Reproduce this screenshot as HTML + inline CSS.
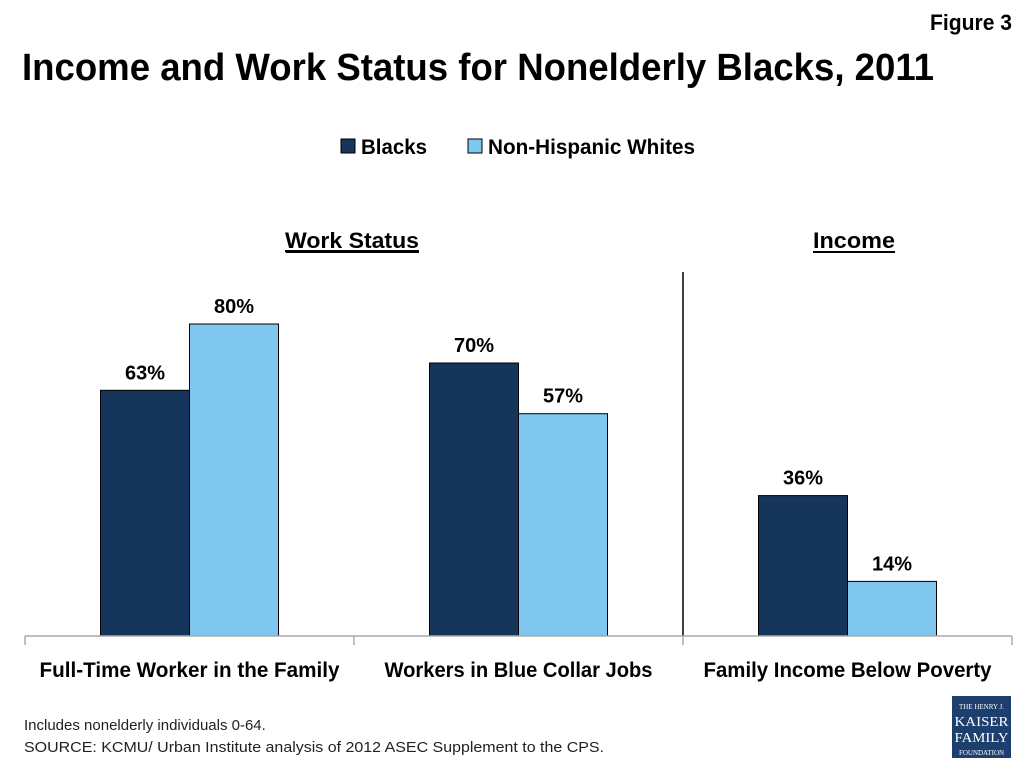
<!DOCTYPE html>
<html><head><meta charset="utf-8"><style>
body{margin:0;background:#fff;}
svg{display:block;font-family:"Liberation Sans",sans-serif;}
</style></head><body>
<svg id="chart" width="1024" height="768" viewBox="0 0 1024 768">
<text x="1012" y="30" text-anchor="end" font-size="22" font-weight="bold" textLength="82" lengthAdjust="spacingAndGlyphs">Figure 3</text>
<text x="22" y="80" font-size="38" font-weight="bold" textLength="912" lengthAdjust="spacingAndGlyphs">Income and Work Status for Nonelderly Blacks, 2011</text>
<g>
<rect x="341" y="139" width="14" height="14" fill="#15355a" stroke="#000" stroke-width="1"/>
<text x="361" y="154" font-size="21" font-weight="bold" textLength="66" lengthAdjust="spacingAndGlyphs">Blacks</text>
<rect x="468" y="139" width="14" height="14" fill="#7fc7ee" stroke="#000" stroke-width="1"/>
<text x="488" y="154" font-size="21" font-weight="bold" textLength="207" lengthAdjust="spacingAndGlyphs">Non-Hispanic Whites</text>
</g>
<text x="352" y="248" text-anchor="middle" font-size="22" font-weight="bold" text-decoration="underline" textLength="134" lengthAdjust="spacingAndGlyphs">Work Status</text>
<line x1="286" y1="252" x2="419" y2="252" stroke="#000" stroke-width="2"/>
<text x="854" y="248" text-anchor="middle" font-size="22" font-weight="bold" textLength="82" lengthAdjust="spacingAndGlyphs">Income</text>
<line x1="813" y1="252" x2="895" y2="252" stroke="#000" stroke-width="2"/>
<line x1="683" y1="272" x2="683" y2="636" stroke="#000" stroke-width="1.5"/>
<g id="bars"></g>
<g id="axis"></g>
<text x="24" y="730" font-size="15" fill="#222">Includes nonelderly individuals 0-64.</text>
<text x="24" y="752" font-size="15" fill="#222" textLength="580" lengthAdjust="spacingAndGlyphs">SOURCE: KCMU/ Urban Institute analysis of 2012 ASEC Supplement to the CPS.</text>
<g>
<rect x="952" y="696" width="59" height="62" fill="#1d3f6e"/>
<text x="981.5" y="709" text-anchor="middle" font-family="Liberation Serif,serif" font-size="7" fill="#fff">THE HENRY J.</text>
<text x="981.5" y="726" text-anchor="middle" font-family="Liberation Serif,serif" font-size="14" fill="#fff" textLength="54" lengthAdjust="spacingAndGlyphs">KAISER</text>
<text x="981.5" y="742" text-anchor="middle" font-family="Liberation Serif,serif" font-size="14" fill="#fff" textLength="54" lengthAdjust="spacingAndGlyphs">FAMILY</text>
<text x="981.5" y="755" text-anchor="middle" font-family="Liberation Serif,serif" font-size="7" fill="#fff">FOUNDATION</text>
</g>
</svg>
<script>
const categories=["Full-Time Worker in the Family","Workers in Blue Collar Jobs","Family Income Below Poverty"];
const blacks=[63,70,36];
const whites=[80,57,14];
const seriesNames=["Blacks","Non-Hispanic Whites"];
const NS="http://www.w3.org/2000/svg";
const x0=25,catW=329,base=636,pxPer=3.9,barW=89;
const xCenter=i=>x0+catW*(i+0.5);
const y=v=>base-v*pxPer;
const bars=document.getElementById('bars'),axis=document.getElementById('axis');
function mk(tag,attrs,p){const e=document.createElementNS(NS,tag);for(const k in attrs)e.setAttribute(k,attrs[k]);p.appendChild(e);return e;}
[blacks,whites].forEach((ser,s)=>{
 ser.forEach((v,i)=>{
  const bx=xCenter(i)-barW+s*barW;
  const r=mk('rect',{x:bx,y:y(v),width:barW,height:v*pxPer,fill:s?"#7fc7ee":"#15355a",stroke:"#000","stroke-width":1},bars);
  
  
  const t=mk('text',{x:bx+barW/2,y:y(v)-11,"text-anchor":"middle","font-size":20,"font-weight":"bold"},bars);
  t.textContent=v+"%";
  
  
 });
});
const ax=mk('line',{x1:x0,y1:base,x2:x0+catW*3,y2:base,stroke:"#aaa","stroke-width":1.5},axis);


for(let i=0;i<=3;i++){mk('line',{x1:x0+catW*i,y1:base,x2:x0+catW*i,y2:base+9,stroke:"#aaa","stroke-width":1.5},axis);}
const tl=[300,268,288];
categories.forEach((c,i)=>{
 const t=mk('text',{x:xCenter(i),y:677,"text-anchor":"middle","font-size":21,"font-weight":"bold",textLength:tl[i],lengthAdjust:"spacingAndGlyphs"},axis);
 t.textContent=c;
 
 
});
</script>
</body></html>
